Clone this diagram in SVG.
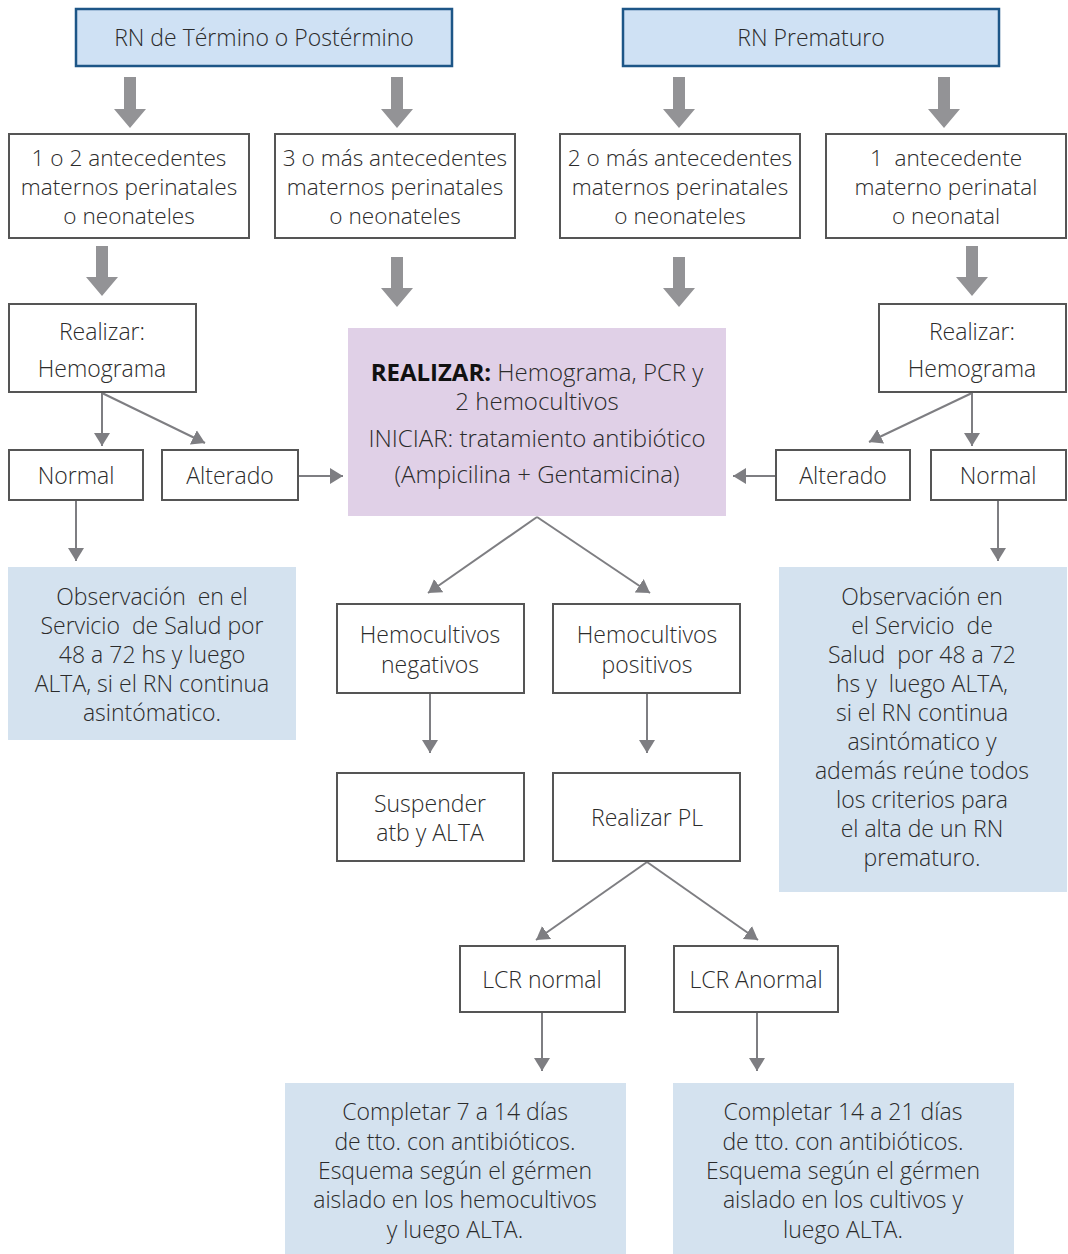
<svg xmlns="http://www.w3.org/2000/svg" width="1068" height="1254" viewBox="0 0 1068 1254">
<style>
text{font-family:"Open Sans","Noto Sans","Liberation Sans",sans-serif;font-size:23px;fill:#2b2b2b;text-anchor:middle;font-weight:300}
.r2 text{font-size:22.6px}
.big text{font-size:24px}
.top{fill:#cfe1f4;stroke:#1d5687;stroke-width:2.5}
.box{fill:#fff;stroke:#555;stroke-width:2}
.obs{fill:#d4e2ef}
.mid{fill:#e0d0e7}
.fat{fill:#939396}
.thin{stroke:#7e7e82;stroke-width:2;fill:none;marker-end:url(#ah)}
.b{font-weight:700;fill:#111}
</style>
<defs>
<marker id="ah" markerUnits="userSpaceOnUse" markerWidth="13" markerHeight="16" refX="13" refY="8" orient="auto" viewBox="0 0 13 16">
<path d="M0,0 L13,8 L0,16 z" fill="#7e7e82"/>
</marker>
</defs>
<rect width="1068" height="1254" fill="#fff"/>

<g id="connectors">
<path class="fat" d="M124,77 h12 v32 h10 l-16,19 l-16,-19 h10 z"/>
<path class="fat" d="M391,77 h12 v32 h10 l-16,19 l-16,-19 h10 z"/>
<path class="fat" d="M673,77 h12 v32 h10 l-16,19 l-16,-19 h10 z"/>
<path class="fat" d="M938,77 h12 v32 h10 l-16,19 l-16,-19 h10 z"/>
<path class="fat" d="M96,246 h12 v31 h10 l-16,19 l-16,-19 h10 z"/>
<path class="fat" d="M391,257 h12 v31 h10 l-16,19 l-16,-19 h10 z"/>
<path class="fat" d="M673,257 h12 v31 h10 l-16,19 l-16,-19 h10 z"/>
<path class="fat" d="M966,246 h12 v31 h10 l-16,19 l-16,-19 h10 z"/>
<line class="thin" x1="102" y1="393" x2="102" y2="446"/>
<line class="thin" x1="102" y1="393" x2="205" y2="443"/>
<line class="thin" x1="299" y1="476" x2="343" y2="476"/>
<line class="thin" x1="76" y1="501" x2="76" y2="561"/>
<line class="thin" x1="972" y1="393" x2="972" y2="446"/>
<line class="thin" x1="972" y1="393" x2="869" y2="442"/>
<line class="thin" x1="776" y1="476" x2="733" y2="476"/>
<line class="thin" x1="998" y1="501" x2="998" y2="561"/>
<line class="thin" x1="537" y1="517" x2="428" y2="593"/>
<line class="thin" x1="537" y1="517" x2="650" y2="593"/>
<line class="thin" x1="430" y1="694" x2="430" y2="753"/>
<line class="thin" x1="647" y1="694" x2="647" y2="753"/>
<line class="thin" x1="647" y1="862" x2="536" y2="940"/>
<line class="thin" x1="647" y1="862" x2="758" y2="940"/>
<line class="thin" x1="542" y1="1013" x2="542" y2="1071"/>
<line class="thin" x1="757" y1="1013" x2="757" y2="1071"/>
</g>

<g id="n-termino"><rect class="top" x="76" y="9" width="376" height="57"/><text x="264" y="46">RN de Término o Postérmino</text></g>
<g id="n-prematuro"><rect class="top" x="623" y="9" width="376" height="57"/><text x="811" y="46">RN Prematuro</text></g>

<g class="r2">
<g id="n-t12"><rect class="box" x="9" y="134" width="240" height="104"/><text x="129" y="166">1 o 2 antecedentes</text><text x="129" y="195">maternos perinatales</text><text x="129" y="224">o neonateles</text></g>
<g id="n-t3"><rect class="box" x="275" y="134" width="240" height="104"/><text x="395" y="166">3 o más antecedentes</text><text x="395" y="195">maternos perinatales</text><text x="395" y="224">o neonateles</text></g>
<g id="n-p2"><rect class="box" x="560" y="134" width="240" height="104"/><text x="680" y="166">2 o más antecedentes</text><text x="680" y="195">maternos perinatales</text><text x="680" y="224">o neonateles</text></g>
<g id="n-p1"><rect class="box" x="826" y="134" width="240" height="104"/><text x="946" y="166" xml:space="preserve">1  antecedente</text><text x="946" y="195">materno perinatal</text><text x="946" y="224">o neonatal</text></g>
</g>

<g id="n-hemo-l"><rect class="box" x="9" y="304" width="187" height="88"/><text x="102" y="340">Realizar:</text><text x="102" y="377">Hemograma</text></g>
<g id="n-hemo-r"><rect class="box" x="879" y="304" width="187" height="88"/><text x="972" y="340">Realizar:</text><text x="972" y="377">Hemograma</text></g>

<g id="n-central" class="big"><rect class="mid" x="348" y="328" width="378" height="188"/>
<text x="537" y="381"><tspan class="b">REALIZAR:</tspan> Hemograma, PCR y</text>
<text x="537" y="410">2 hemocultivos</text>
<text x="537" y="447">INICIAR: tratamiento antibiótico</text>
<text x="537" y="483">(Ampicilina + Gentamicina)</text></g>

<g id="n-normal-l"><rect class="box" x="9" y="450" width="134" height="50"/><text x="76" y="484">Normal</text></g>
<g id="n-alt-l"><rect class="box" x="162" y="450" width="136" height="50"/><text x="230" y="484">Alterado</text></g>
<g id="n-alt-r"><rect class="box" x="776" y="450" width="134" height="50"/><text x="843" y="484">Alterado</text></g>
<g id="n-normal-r"><rect class="box" x="931" y="450" width="135" height="50"/><text x="998" y="484">Normal</text></g>

<g id="n-obs-l"><rect class="obs" x="8" y="567" width="288" height="173"/>
<text x="152" y="605" xml:space="preserve">Observación  en el</text>
<text x="152" y="634" xml:space="preserve">Servicio  de Salud por</text>
<text x="152" y="663">48 a 72 hs y luego</text>
<text x="152" y="692">ALTA, si el RN continua</text>
<text x="152" y="721">asintómatico.</text></g>

<g id="n-obs-r"><rect class="obs" x="779" y="567" width="288" height="325"/>
<text x="922" y="605">Observación en</text>
<text x="922" y="634" xml:space="preserve">el Servicio  de</text>
<text x="922" y="663" xml:space="preserve">Salud  por 48 a 72</text>
<text x="922" y="692" xml:space="preserve">hs y  luego ALTA,</text>
<text x="922" y="721">si el RN continua</text>
<text x="922" y="750">asintómatico y</text>
<text x="922" y="779">además reúne todos</text>
<text x="922" y="808">los criterios para</text>
<text x="922" y="837">el alta de un RN</text>
<text x="922" y="866">prematuro.</text></g>

<g id="n-hneg"><rect class="box" x="337" y="604" width="187" height="89"/><text x="430" y="643">Hemocultivos</text><text x="430" y="673">negativos</text></g>
<g id="n-hpos"><rect class="box" x="553" y="604" width="187" height="89"/><text x="647" y="643">Hemocultivos</text><text x="647" y="673">positivos</text></g>
<g id="n-susp"><rect class="box" x="337" y="773" width="187" height="88"/><text x="430" y="812">Suspender</text><text x="430" y="841">atb y ALTA</text></g>
<g id="n-pl"><rect class="box" x="553" y="773" width="187" height="88"/><text x="647" y="826">Realizar PL</text></g>

<g id="n-lcr-n"><rect class="box" x="460" y="946" width="165" height="66"/><text x="542" y="988">LCR normal</text></g>
<g id="n-lcr-a"><rect class="box" x="674" y="946" width="164" height="66"/><text x="756" y="988">LCR Anormal</text></g>

<g id="n-comp7"><rect class="obs" x="285" y="1083" width="341" height="171"/>
<text x="455" y="1120">Completar 7 a 14 días</text>
<text x="455" y="1150">de tto. con antibióticos.</text>
<text x="455" y="1179">Esquema según el gérmen</text>
<text x="455" y="1208">aislado en los hemocultivos</text>
<text x="455" y="1238">y luego ALTA.</text></g>
<g id="n-comp14"><rect class="obs" x="673" y="1083" width="341" height="171"/>
<text x="843" y="1120">Completar 14 a 21 días</text>
<text x="843" y="1150">de tto. con antibióticos.</text>
<text x="843" y="1179">Esquema según el gérmen</text>
<text x="843" y="1208">aislado en los cultivos y</text>
<text x="843" y="1238">luego ALTA.</text></g>
</svg>
